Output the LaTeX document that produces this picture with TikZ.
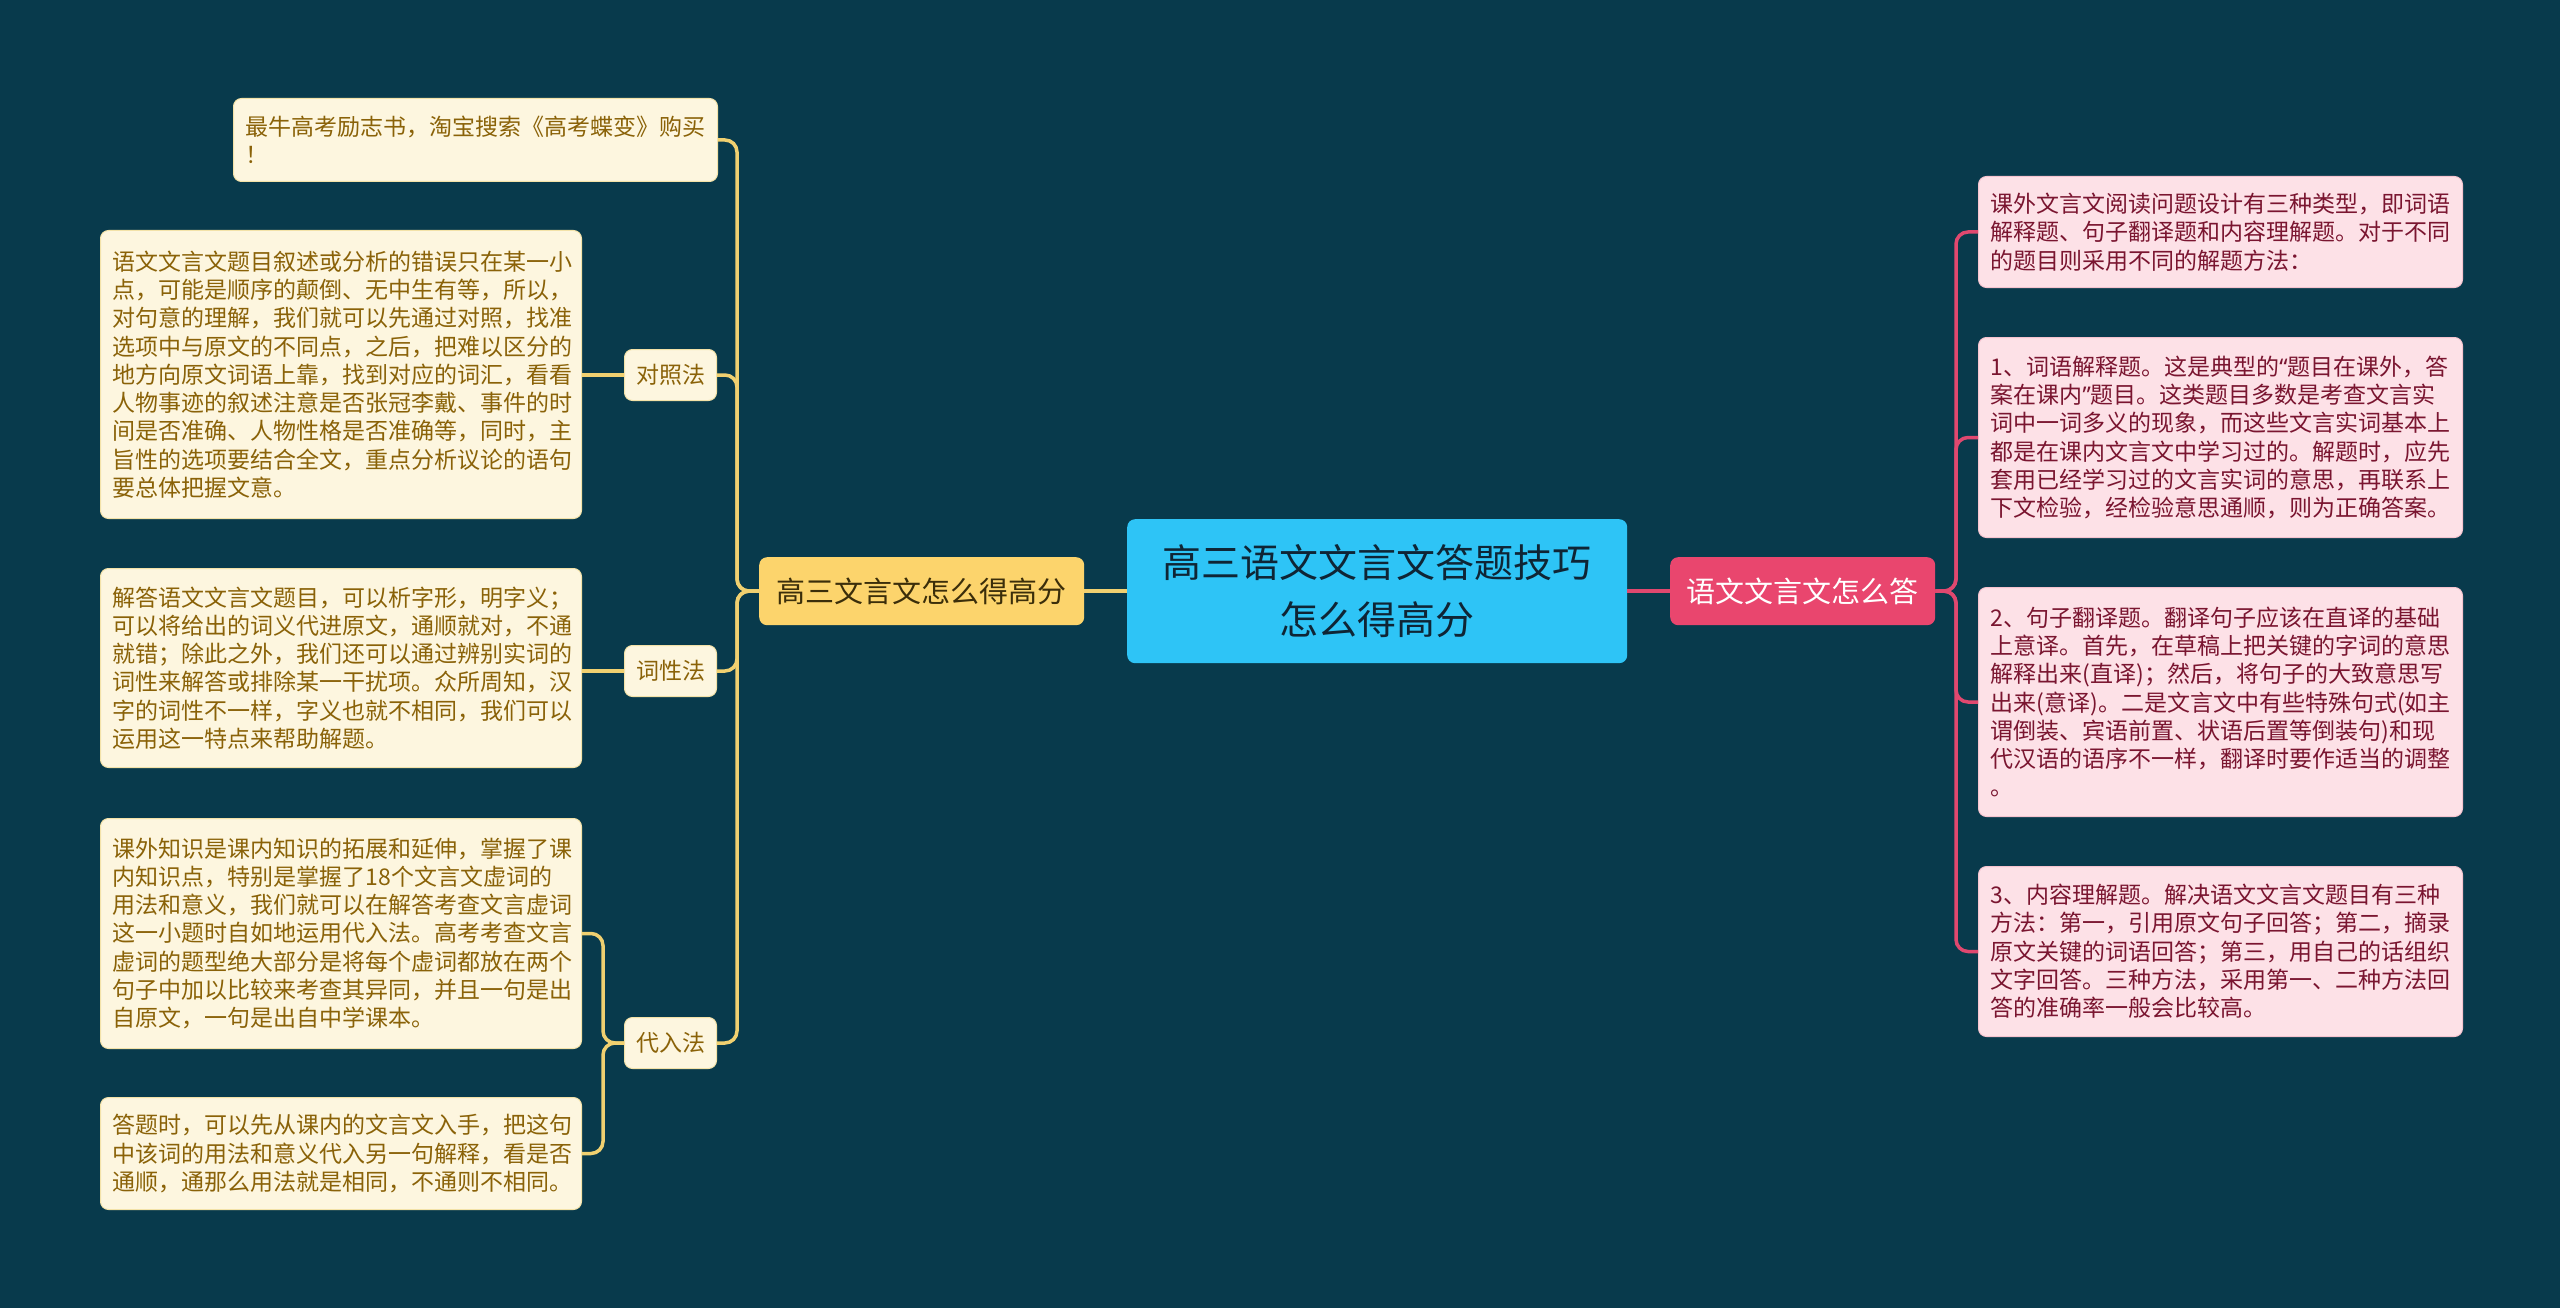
\documentclass[tikz,border=0pt]{standalone}
\usepackage{fontspec}
\setmainfont{Noto Sans CJK SC}
\newfontfamily\cjk{Noto Sans CJK SC}
\newfontfamily\latq{Noto Sans}
\newcommand{\myLq}{{\latq “}}
\newcommand{\myRq}{{\latq ”}}
\definecolor{bgc}{HTML}{083A4C}
\definecolor{ylw}{HTML}{F0D070}
\definecolor{pnk}{HTML}{E0486F}
\definecolor{cream}{HTML}{FDF6DF}
\definecolor{creamedge}{HTML}{F3E2A8}
\definecolor{leaftxt}{HTML}{8A6208}
\definecolor{pinkfill}{HTML}{FDE1E7}
\definecolor{pinkedge}{HTML}{F5C3CF}
\definecolor{pinktxt}{HTML}{7A1530}
\definecolor{centerfill}{HTML}{2EC4F6}
\definecolor{centertxt}{HTML}{0F2535}
\definecolor{lmainfill}{HTML}{FCD46C}
\definecolor{lmaintxt}{HTML}{3B2E0A}
\definecolor{rmainfill}{HTML}{E9466E}
\tikzset{
  x=1pt, y=-1pt,
  boxbase/.style={rounded corners=8pt, anchor=north west, inner ysep=0pt, align=left},
  leafL/.style={boxbase, draw=creamedge, line width=1pt, fill=cream, text=leaftxt, inner xsep=12pt,
    font=\cjk\fontsize{23}{28.3}\selectfont},
  leafR/.style={boxbase, draw=pinkedge, line width=1pt, fill=pinkfill, text=pinktxt, inner xsep=12pt,
    font=\cjk\fontsize{23}{28.3}\selectfont},
  subL/.style={rounded corners=8pt, anchor=north west, fill=cream, draw=creamedge, line width=1pt, text=leaftxt,
    minimum width=92pt, minimum height=51pt, inner sep=0pt, font=\cjk\fontsize{23}{28}\selectfont},
  lineY/.style={draw=ylw, line width=3.5pt, rounded corners=12pt},
  lineP/.style={draw=pnk, line width=3.5pt, rounded corners=12pt},
}
\begin{document}
\begin{tikzpicture}
\fill[bgc] (0,0) rectangle (2560,1308);
\useasboundingbox (0,0) rectangle (2560,1308);

% center and main nodes
\node[boxbase, fill=centerfill, text=centertxt, minimum width=500pt, minimum height=144pt, align=center, inner sep=0pt,
  font=\cjk\fontsize{39}{57}\selectfont] (center) at (1127,519) {高三语文文言文答题技巧\\怎么得高分};
\node[boxbase, fill=lmainfill, text=lmaintxt, minimum width=325pt, minimum height=68pt, align=center, inner sep=0pt,
  font=\cjk\fontsize{29}{34}\selectfont] (lmain) at (759,557) {高三文言文怎么得高分};
\node[boxbase, fill=rmainfill, text=white, minimum width=265pt, minimum height=68pt, align=center, inner sep=0pt,
  font=\cjk\fontsize{29}{34}\selectfont] (rmain) at (1670,557) {语文文言文怎么答};

% left sub nodes
\node[subL] (duizhao) at (624,349) {对照法};
\node[subL] (cixing) at (624,645) {词性法};
\node[subL] (dairu) at (624,1017) {代入法};

% left leaves
\node[leafL, text width=460pt, minimum width=484pt, minimum height=83pt] (top) at (233,98)
  {最牛高考励志书，淘宝搜索《高考蝶变》购买\\！};
\node[leafL, text width=457pt, minimum width=481pt, minimum height=288pt] (leafa) at (100,230)
  {语文文言文题目叙述或分析的错误只在某一小\\点，可能是顺序的颠倒、无中生有等，所以，\\对句意的理解，我们就可以先通过对照，找准\\选项中与原文的不同点，之后，把难以区分的\\地方向原文词语上靠，找到对应的词汇，看看\\人物事迹的叙述注意是否张冠李戴、事件的时\\间是否准确、人物性格是否准确等，同时，主\\旨性的选项要结合全文，重点分析议论的语句\\要总体把握文意。};
\node[leafL, text width=457pt, minimum width=481pt, minimum height=199pt] (leafb) at (100,568)
  {解答语文文言文题目，可以析字形，明字义；\\可以将给出的词义代进原文，通顺就对，不通\\就错；除此之外，我们还可以通过辨别实词的\\词性来解答或排除某一干扰项。众所周知，汉\\字的词性不一样，字义也就不相同，我们可以\\运用这一特点来帮助解题。};
\node[leafL, text width=457pt, minimum width=481pt, minimum height=230pt] (leafc) at (100,818)
  {课外知识是课内知识的拓展和延伸，掌握了课\\内知识点，特别是掌握了18个文言文虚词的\\用法和意义，我们就可以在解答考查文言虚词\\这一小题时自如地运用代入法。高考考查文言\\虚词的题型绝大部分是将每个虚词都放在两个\\句子中加以比较来考查其异同，并且一句是出\\自原文，一句是出自中学课本。};
\node[leafL, text width=457pt, minimum width=481pt, minimum height=112pt] (leafd) at (100,1097)
  {答题时，可以先从课内的文言文入手，把这句\\中该词的用法和意义代入另一句解释，看是否\\通顺，通那么用法就是相同，不通则不相同。};

% right leaves
\node[leafR, text width=460pt, minimum width=484pt, minimum height=111pt] (ra) at (1978,176)
  {课外文言文阅读问题设计有三种类型，即词语\\解释题、句子翻译题和内容理解题。对于不同\\的题目则采用不同的解题方法：};
\node[leafR, text width=460pt, minimum width=484pt, minimum height=200pt] (rb) at (1978,337)
  {1、词语解释题。这是典型的\myLq 题目在课外，答\\案在课内\myRq 题目。这类题目多数是考查文言实\\词中一词多义的现象，而这些文言实词基本上\\都是在课内文言文中学习过的。解题时，应先\\套用已经学习过的文言实词的意思，再联系上\\下文检验，经检验意思通顺，则为正确答案。};
\node[leafR, text width=460pt, minimum width=484pt, minimum height=229pt] (rc) at (1978,587)
  {2、句子翻译题。翻译句子应该在直译的基础\\上意译。首先，在草稿上把关键的字词的意思\\解释出来(直译)；然后，将句子的大致意思写\\出来(意译)。二是文言文中有些特殊句式(如主\\谓倒装、宾语前置、状语后置等倒装句)和现\\代汉语的语序不一样，翻译时要作适当的调整\\。};
\node[leafR, text width=460pt, minimum width=484pt, minimum height=170pt] (rd) at (1978,866)
  {3、内容理解题。解决语文文言文题目有三种\\方法：第一，引用原文句子回答；第二，摘录\\原文关键的词语回答；第三，用自己的话组织\\文字回答。三种方法，采用第一、二种方法回\\答的准确率一般会比较高。};

% junction coordinates
\coordinate (jl) at (737,591);
\coordinate (jd) at (603,1043);
\coordinate (jr) at (1956,591);

% connectors
\draw[lineY, rounded corners=0pt] (center.west) -- (lmain.east);
\draw[lineP, rounded corners=0pt] (center.east) -- (rmain.west);

\draw[lineY] (lmain.west) -- (jl) |- (top.east);
\draw[lineY] (lmain.west) -- (jl) |- (duizhao.east);
\draw[lineY] (lmain.west) -- (jl) |- (cixing.east);
\draw[lineY] (lmain.west) -- (jl) |- (dairu.east);

\draw[lineY, rounded corners=0pt] (duizhao.west) -- (duizhao.west -| leafa.east);
\draw[lineY, rounded corners=0pt] (cixing.west) -- (cixing.west -| leafb.east);
\draw[lineY] (dairu.west) -- (jd) |- (leafc.east);
\draw[lineY] (dairu.west) -- (jd) |- (leafd.east);

\draw[lineP] (rmain.east) -- (jr) |- (ra.west);
\draw[lineP] (rmain.east) -- (jr) |- (rb.west);
\draw[lineP] (rmain.east) -- (jr) |- (rc.west);
\draw[lineP] (rmain.east) -- (jr) |- (rd.west);
\end{tikzpicture}
\end{document}
